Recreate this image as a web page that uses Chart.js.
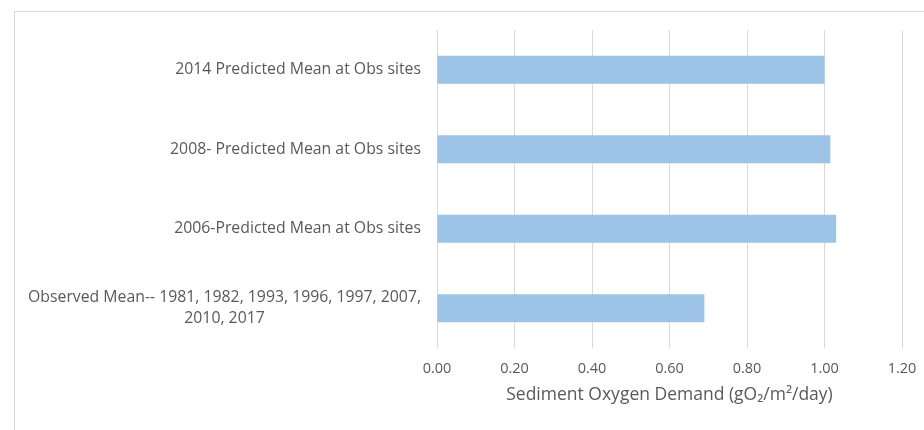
<!DOCTYPE html>
<html>
<head>
<meta charset="utf-8">
<script src="https://cdn.jsdelivr.net/npm/chart.js@4"></script>
<style>
  html, body { margin: 0; padding: 0; background: #fff; }
  #wrap { position: relative; width: 924px; height: 430px; overflow: hidden; }
  #frame { position: absolute; left: 14px; top: 11px; width: 940px; height: 440px; border: 1px solid #d9d9d9; }
  canvas { position: absolute; left: 0; top: 0; }
</style>
</head>
<body>
<div id="wrap">
  <div id="frame"></div>
  <canvas id="sodChart" width="924" height="430"></canvas>
</div>
<script>
// categories, top to bottom
const categories = [
  ['2014 Predicted Mean at Obs sites'],
  ['2008- Predicted Mean at Obs sites'],
  ['2006-Predicted Mean at Obs sites'],
  ['Observed Mean-- 1981, 1982, 1993, 1996, 1997, 2007,', '2010, 2017']
];
const sodValues = [1.00, 1.015, 1.03, 0.69];
const xTicks = [0, 0.2, 0.4, 0.6, 0.8, 1.0, 1.2];
const axisTitle = 'Sediment Oxygen Demand (gO\u2082/m\u00b2/day)';

const FONT = '"Open Sans", Lato, sans-serif';
const TEXT = '#595959';

// y labels: block right aligned, lines centred inside the block (Excel style)
const catLabels = {
  id: 'catLabels',
  afterDraw(chart) {
    const ctx = chart.ctx;
    const y = chart.scales.y;
    ctx.save();
    ctx.font = '15.8px ' + FONT;
    ctx.fillStyle = TEXT;
    ctx.textAlign = 'center';
    ctx.textBaseline = 'middle';
    const right = chart.chartArea.left - 16;
    const lh = 21;
    categories.forEach((lines, i) => {
      const w = Math.max(...lines.map(l => ctx.measureText(l).width));
      const cx = right - w / 2;
      const cy = y.getPixelForTick(i);
      lines.forEach((l, k) => {
        ctx.fillText(l, cx, cy + (k - (lines.length - 1) / 2) * lh);
      });
    });
    ctx.restore();
  }
};

new Chart(document.getElementById('sodChart').getContext('2d'), {
  type: 'bar',
  data: {
    labels: categories.map(c => c.join(' ')),
    datasets: [{
      label: 'SOD',
      data: sodValues,
      backgroundColor: '#9dc3e6',
      borderWidth: 0,
      categoryPercentage: 1,
      barPercentage: 0.35
    }]
  },
  options: {
    indexAxis: 'y',
    responsive: false,
    animation: false,
    layout: { padding: { top: 30, right: 22, left: 0, bottom: 20 } },
    plugins: {
      legend: { display: false },
      tooltip: { enabled: false }
    },
    scales: {
      x: {
        min: 0,
        max: 1.2,
        afterBuildTicks(scale) { scale.ticks = xTicks.map(v => ({ value: v })); },
        afterFit(scale) {
          scale.height = 62;
          scale.paddingLeft = 0;
          scale.paddingRight = 0;
        },
        border: { display: false },
        grid: { color: '#d9d9d9', drawTicks: false, lineWidth: 1 },
        ticks: {
          color: TEXT,
          padding: 12,
          font: { family: FONT, size: 14.5 },
          callback: v => Number(v).toFixed(2)
        },
        title: {
          display: true,
          text: axisTitle,
          color: TEXT,
          padding: { top: 4 },
          font: { family: FONT, size: 17.5 }
        }
      },
      y: {
        afterFit(scale) { scale.width = 437; },
        border: { display: false },
        grid: { display: false },
        ticks: { display: false }
      }
    }
  },
  plugins: [catLabels]
});
</script>
</body>
</html>
